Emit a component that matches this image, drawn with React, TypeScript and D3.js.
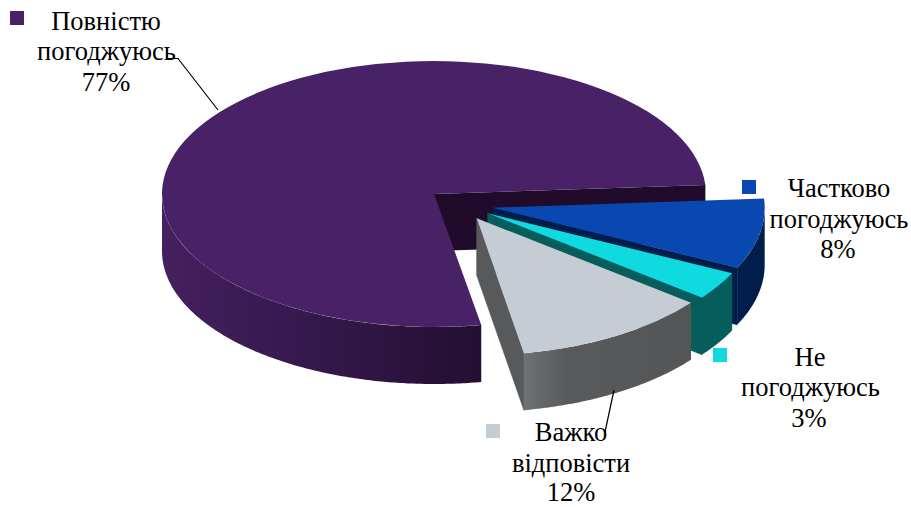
import React from "react";
import * as d3 from "d3";

const categories = ["Повністю погоджуюсь", "Частково погоджуюсь", "Не погоджуюсь", "Важко відповісти"];
const values = [77, 8, 3, 12];
const topColors = ["#482166", "#0948b0", "#0edae0", "#c5ccd4"];
const wallColors = ["#200c2a", "#001d4b", "#075d5c", "#57595b"];
const apexes = [[434, 194], [492.7, 207.7], [487.7, 213.3], [476.7, 218.3]];
// the tilted view foreshortens the slices a little: degrees added to each drawn slice's edges
const startNudge = [0, -1.1, 0, 1.2];
const endNudge = [-1.1, 0, 1.2, 0];
const radiusY = [133, 137, 137, 137];
const legendSquares = [[10, 11], [742, 180], [713, 348], [486, 424]];
const labels = [
  [["Повністю", 106, 30], ["погоджуюсь", 106.5, 60], ["77%", 106, 91]],
  [["Частково", 839, 197], ["погоджуюсь", 839, 228], ["8%", 838, 258]],
  [["Не", 810, 366], ["погоджуюсь", 810.5, 396], ["3%", 809, 427]],
  [["Важко", 571, 441], ["відповісти", 571, 472], ["12%", 571, 501]],
] as [string, number, number][][];
const leaders = [
  [[166, 58.5], [178, 58.5], [218, 110]],
  [[614, 390], [605, 432]],
];

const RX = 272;
const DEPTH = 57;
const deg = Math.PI / 180;

export default function App() {
  const pieSlices = d3.pie<number>().sort(null).startAngle(170 * deg).endAngle(530 * deg)(values);
  const slices = pieSlices.map((s, i) => {
    const turn = i > 0 ? 2 * Math.PI : 0;
    return { ...s, startAngle: s.startAngle - turn + startNudge[i] * deg, endAngle: s.endAngle - turn + endNudge[i] * deg };
  });
  const arc = d3.arc<d3.PieArcDatum<number>>().innerRadius(0).outerRadius(RX);
  const lineGen = d3.line<[number, number]>();
  const px = (i: number, a: number) => apexes[i][0] + RX * Math.sin(a);
  const py = (i: number, a: number) => apexes[i][1] - radiusY[i] * Math.cos(a);

  const outerWall = (i: number, a0: number, a1: number) => {
    const steps = d3.range(a0, a1, 0.01).concat([a1]);
    return d3.area<number>()
      .x((a) => px(i, a))
      .y0((a) => py(i, a))
      .y1((a) => py(i, a) + DEPTH)(steps) as string;
  };
  const cutWall = (i: number, a: number) => {
    const [x, y] = apexes[i];
    const ex = px(i, a), ey = py(i, a);
    return lineGen([[x, y], [ex, ey], [ex, ey + DEPTH], [x, y + DEPTH]]) + "Z";
  };

  return (
    <svg width={911} height={507} style={{ position: "fixed", left: 0, top: 0, background: "#fff" }}
      fontFamily="'Liberation Serif', serif" fontSize={26.5} fill="#000">
      <defs>
        <linearGradient id="gMain" gradientUnits="userSpaceOnUse" x1={162} x2={481} y1={0} y2={0}>
          <stop offset="0" stopColor="#44205f" />
          <stop offset="0.4" stopColor="#37194f" />
          <stop offset="1" stopColor="#240f32" />
        </linearGradient>
        <linearGradient id="gGrey" gradientUnits="userSpaceOnUse" x1={524} x2={692} y1={0} y2={0}>
          <stop offset="0" stopColor="#6f7275" />
          <stop offset="0.25" stopColor="#585a5c" />
          <stop offset="1" stopColor="#545557" />
        </linearGradient>
      </defs>

      {/* main slice */}
      <path d={cutWall(0, slices[0].endAngle)} fill={wallColors[0]} />
      <path d={outerWall(0, slices[0].startAngle, 270 * deg)} fill="url(#gMain)" />
      <path d={arc(slices[0]) as string} fill={topColors[0]}
        transform={`translate(${apexes[0][0]},${apexes[0][1]}) scale(1,${radiusY[0] / RX})`} />

      {/* separated slices, back to front */}
      {[1, 2, 3].map((i) => {
        const s = slices[i];
        return (
          <g key={categories[i]}>
            <path d={cutWall(i, s.endAngle)} fill={wallColors[i]} stroke={wallColors[i]} strokeWidth={0.6} />
            <path d={outerWall(i, Math.max(s.startAngle, 90 * deg), s.endAngle)}
              fill={i === 3 ? "url(#gGrey)" : wallColors[i]} />
            <path d={arc(s) as string} fill={topColors[i]}
              transform={`translate(${apexes[i][0]},${apexes[i][1]}) scale(1,${radiusY[i] / RX})`} />
          </g>
        );
      })}

      {leaders.map((pts, i) => (
        <path key={i} d={lineGen(pts as [number, number][]) as string} fill="none" stroke="#000" strokeWidth={1.2} />
      ))}

      {legendSquares.map(([x, y], i) => (
        <rect key={i} x={x} y={y} width={14} height={14} fill={topColors[i]} />
      ))}

      {labels.flat().map(([t, x, y], i) => (
        <text key={i} x={x} y={y} textAnchor="middle">{t}</text>
      ))}
    </svg>
  );
}
